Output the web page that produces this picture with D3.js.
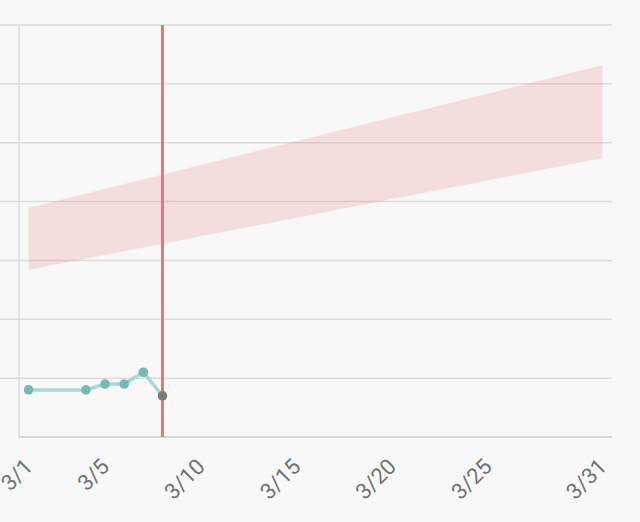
<!DOCTYPE html>
<html>
<head>
<meta charset="utf-8">
<script src="https://cdn.jsdelivr.net/npm/d3@7/dist/d3.min.js"></script>
<style>
  html, body { margin: 0; padding: 0; background: #f8f8f8; }
  svg { display: block; }
</style>
</head>
<body>
<svg id="chart" width="640" height="522"></svg>
<script>
// ---- data ----
const tickDays = [1, 5, 10, 15, 20, 25, 31];
const tickLabels = ["3/1", "3/5", "3/10", "3/15", "3/20", "3/25", "3/31"];
const yTicks = [0, 10, 20, 30, 40, 50, 60, 70];

const obsDays = [1, 4, 5, 6, 7, 8];
const obsValues = [8, 8, 9, 9, 11, 7];

const bandDays = [1, 31];
const bandLower = [28.4, 47.4];
const bandUpper = [38.9, 63.2];

const markerDay = 8;

// ---- layout ----
const svg = d3.select("#chart");
const plotLeft = 19, plotRight = 612, plotTop = 25, plotBottom = 437;

const x = d3.scaleLinear().domain([0.5, 31.5]).range([plotLeft, plotRight]);
const y = d3.scaleLinear().domain([0, 70]).range([plotBottom, plotTop]);

// horizontal grid lines
svg.append("g").selectAll("line").data(yTicks.filter(d => d > 0)).join("line")
  .attr("x1", 0).attr("x2", plotRight)
  .attr("y1", d => y(d)).attr("y2", d => y(d))
  .attr("stroke", "#dcdcdc").attr("stroke-width", 1.5);

// y axis line
svg.append("line")
  .attr("x1", plotLeft).attr("x2", plotLeft).attr("y1", y(70)).attr("y2", y(0))
  .attr("stroke", "#dcdcdc").attr("stroke-width", 1.5);

// band
const bandData = bandDays.map((d, i) => ({ d, lo: bandLower[i], hi: bandUpper[i] }));
svg.append("path")
  .datum(bandData)
  .attr("fill", "rgba(229,115,115,0.2)")
  .attr("d", d3.area().x(p => x(p.d)).y0(p => y(p.lo)).y1(p => y(p.hi)));

// x axis
const xAxis = d3.axisBottom(x)
  .tickValues(tickDays)
  .tickFormat((d, i) => tickLabels[i])
  .tickSize(0);
const gx = svg.append("g").attr("transform", `translate(0,${plotBottom})`).call(xAxis);
gx.select(".domain").remove();
gx.selectAll("text")
  .attr("x", 0).attr("y", 0).attr("dy", 0)
  .attr("text-anchor", "end")
  .attr("transform", "translate(5,31) rotate(-45)")
  .attr("fill", "#727272")
  .style("font-family", "Roboto, 'Helvetica Neue', Arial, sans-serif")
  .style("font-size", "22px");

svg.append("line")
  .attr("x1", plotLeft).attr("x2", plotRight).attr("y1", plotBottom).attr("y2", plotBottom)
  .attr("stroke", "#cfcfcf").attr("stroke-width", 1.5);

// observed line
const obs = obsDays.map((d, i) => ({ d, v: obsValues[i] }));
svg.append("path")
  .datum(obs)
  .attr("fill", "none")
  .attr("stroke", "#a9d6d3")
  .attr("stroke-width", 3.5)
  .attr("d", d3.line().x(p => x(p.d)).y(p => y(p.v)));

svg.append("g").selectAll("circle").data(obs.slice(0, -1)).join("circle")
  .attr("cx", p => x(p.d)).attr("cy", p => y(p.v)).attr("r", 4.8)
  .attr("fill", "#78b8b5");

// marker line
svg.append("line")
  .attr("x1", x(markerDay)).attr("x2", x(markerDay))
  .attr("y1", y(70)).attr("y2", y(0))
  .attr("stroke", "#e4777a").attr("stroke-width", 3);

// last point
const last = obs[obs.length - 1];
svg.append("circle")
  .attr("cx", x(last.d)).attr("cy", y(last.v)).attr("r", 4.8)
  .attr("fill", "#767b7b");
</script>
</body>
</html>
